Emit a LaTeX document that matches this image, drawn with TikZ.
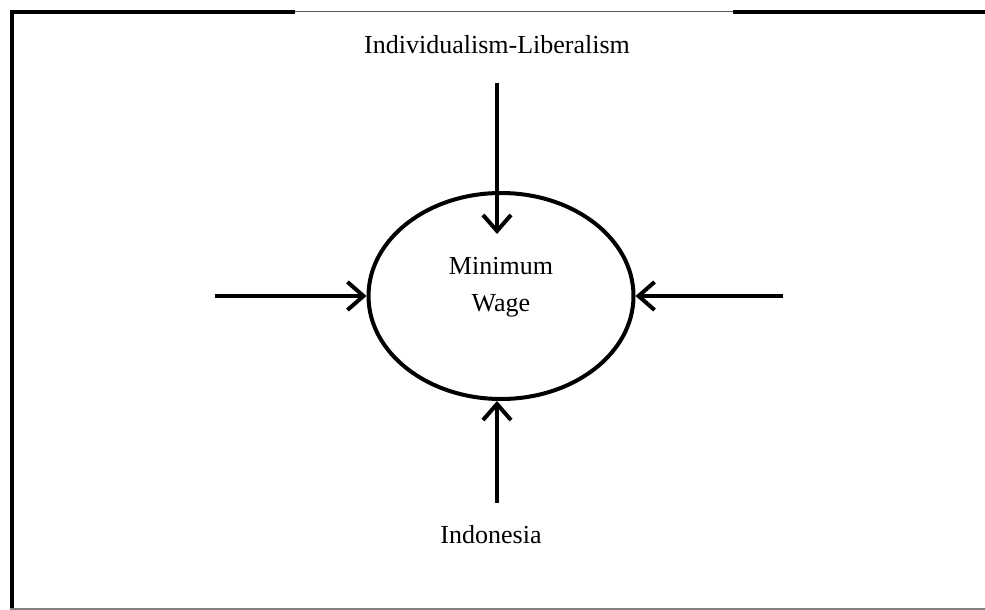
\documentclass[tikz,border=0pt]{standalone}
\usepackage{fontspec}
\setmainfont{Liberation Serif}
\usetikzlibrary{arrows.meta,shapes.geometric}

\tikzset{
  flow/.style={line width=4pt, -{Straight Barb[length=16pt,width=28pt]}},
  caption/.style={font=\fontsize{26}{37}\selectfont, align=center, inner sep=2pt}
}

\begin{document}
\begin{tikzpicture}[x=1pt,y=-1pt]
        \useasboundingbox (0,0) rectangle (985,610);

        % Frame
        \draw[line width=4pt] (12,610) -- (12,12) -- (295,12);
        \draw[gray!70!black, line width=1pt] (295,12) -- (733,12);
        \draw[line width=4pt] (733,12) -- (985,12);
        \draw[gray, line width=1.5pt] (10,609) -- (985,609);

        % Ellipse with its text
        \node[ellipse, draw, line width=4pt, minimum width=265pt, minimum height=206pt] (wage) at (501,296) {};
        \node[caption] (wagetext) at (501,287) {Minimum\\Wage};

        % Outer labels
        \node[caption] (indiv) at (497,45) {Individualism-Liberalism};
        \node[caption] (indo) at (491,535) {Indonesia};
        \coordinate (west) at (215,296);
        \coordinate (east) at (783,296);

        % Arrows into the ellipse
        \draw[flow] ([yshift=-27pt]indiv.south) -- ([yshift=-43pt]wage.north -| indiv.south);
        \draw[flow] ([yshift=21pt]indo.north -| indiv.south) -- (wage.south -| indiv.south);
        \draw[flow] (west) -- (wage.west);
        \draw[flow] (east) -- (wage.east);
    \end{tikzpicture}
\end{document}
